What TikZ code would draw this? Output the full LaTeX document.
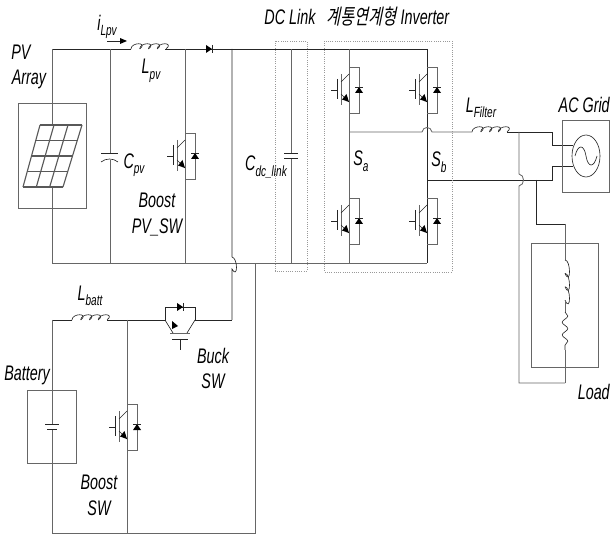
\documentclass[tikz,border=0pt]{standalone}
\usepackage{fontspec}
\setmainfont{Liberation Sans}[FakeStretch=0.68]
\newfontfamily\krfont{Noto Sans CJK KR}[FakeSlant=0.2,FakeStretch=0.72]
\usetikzlibrary{calc,decorations.pathmorphing}
\newcommand{\subs}[1]{\raisebox{-.5ex}{\fontsize{10.5}{10.5}\selectfont #1}}
\tikzset{
 wire/.style={black!85, line width=.45pt},
 gwire/.style={black!60, line width=.6pt},
 dotbox/.style={black!40, densely dotted, line width=.6pt},
 lbl/.style={inner sep=0pt, font=\fontsize{15}{17}\selectfont\itshape},
 diode/.pic={
  \fill[black] (-3,-4) -- (3,0) -- (-3,4) -- cycle;
  \draw[wire] (3,-4) -- (3,4);
 },
 igbt/.pic={
  \draw[wire] (-18,0) -- (-12,0) (-12,-11) -- (-12,9);
  \draw[gwire] (-8,-16) -- (-8,15);
  \draw[wire] (-8,-8) -- (0,-16) (-8,4) -- (0,12);
  \fill[black] (0,12) -- (-7,9.5) -- (-2.5,4) -- cycle;
  \draw[gwire] (0,-23) -- (10,-23) -- (10,23) -- (0,23);
  \pic[rotate=90] at (10,0) {diode};
 },
 coil/.pic={
  \foreach \i in {0,1,2,3}
   \draw[wire] (\i*8.75,0) .. controls +(0,-7) and +(8.75,-7) .. +(8.75,0);
 },
}
\begin{document}
\begin{tikzpicture}[x=0.025cm, y=-0.025cm]
 \useasboundingbox (0,0) rectangle (610,536);

 \coordinate (tl) at (52,49);
 \coordinate (bl) at (52,263);
 \coordinate (cpvT) at (110,49);
 \coordinate (cpvB) at (110,263);
 \coordinate (swT) at (185,49);
 \coordinate (swB) at (185,263);
 \coordinate (dcT) at (232,49);
 \coordinate (cdcT) at (291,49);
 \coordinate (cdcB) at (291,263);
 \coordinate (aT) at (349,49);
 \coordinate (aM) at (349,132);
 \coordinate (aB) at (349,263);
 \coordinate (bT) at (427,49);
 \coordinate (bM) at (427,180);
 \coordinate (bB) at (427,263);
 \coordinate (batL) at (52,320);
 \coordinate (batB) at (52,533);
 \coordinate (busT) at (127,320);
 \coordinate (busB) at (127,533);
 \coordinate (retT) at (255,263);
 \coordinate (retB) at (255,533);
 \coordinate (dcB) at (232,320);
 \coordinate (ltap) at (519,132);
 \coordinate (ltapB) at (519,383);
 \coordinate (ntap) at (536,180);
 \coordinate (loadT) at (565,224);
 \coordinate (loadB) at (565,383);

 \draw[wire] (tl) -- (131,49);
 \draw[wire] (165,49) -- (bT);
 \pic (Lpv) at (131,49) {coil};
 \pic (Dpv) at (209,49) {diode};
 \draw[gwire] (tl) -- (bl);
 \draw[gwire] (bl) -- (bB);
 \draw[gwire] (cpvT) -- (110,153);
 \draw[gwire] (110,160) -- (cpvB);
 \draw[wire] (101,153) -- (118,153);
 \draw[wire] (101,162) .. controls (106,158) and (113,158) .. (118,162);
 \draw[gwire] (swT) -- (swB);
 \pic (Spv) at (185,156) {igbt};
 \draw[wire] (dcT) -- ++(0,208) .. controls +(6,1) and +(6,11) .. ++(0,12) -- (dcB);
 \draw[gwire] (cdcT) -- (291,153);
 \draw[gwire] (291,158) -- (cdcB);
 \draw[wire] (284,153) -- (298,153) (284,158) -- (298,158);

 \draw[gwire] (aT) -- (aB);
 \draw[wire] (bT) -- (bB);
 \pic (S1) at (349,90) {igbt};
 \pic (S2) at (427,90) {igbt};
 \pic (S3) at (349,221) {igbt};
 \pic (S4) at (427,221) {igbt};
 \draw[gwire] (aM) -- (422,132) .. controls (423,126) and (431,126) .. (432,132) -- (472,132);
 \pic (Lf) at (472,132) {coil};
 \draw[wire] (507,132) -- (552,132) -- (552,145) -- (573,145);
 \draw[wire] (bM) -- (552,180) -- (552,166) -- (573,166);
 \draw[gwire] (ltap) -- (519,174) .. controls (525,175) and (525,185) .. (519,186) -- (ltapB) -- (loadB);
 \draw[wire] (ntap) -- (536,224) -- (loadT);
 \draw[gwire] (loadT) -- (565,260);
 \foreach \i in {0,1,2}
  \draw[wire] (565,260+\i*13.4) .. controls +(6,0) and +(6,13.4) .. +(0,13.4);
 \draw[gwire] (565,300) -- (565,312);
 \draw[wire, decorate, decoration={snake, segment length=9pt, amplitude=2pt}] (565,312) -- (565,350);
 \draw[gwire] (565,350) -- (loadB);

 \draw[wire] (batL) -- (72,320);
 \pic (Lb) at (72,320) {coil};
 \draw[wire] (107,320) -- (165,320) -- (165,307) -- (195,307) -- (195,320) -- (dcB);
 \pic (Db) at (180,307) {diode};
 \draw[wire] (165,320) -- (173,333) (195,320) -- (187,333);
 \fill[black] (172,321) -- (172,329) -- (178,326) -- cycle;
 \draw[gwire] (170,333) -- (190,333);
 \draw[wire] (172,339) -- (188,339) (180,339) -- (180,350);
 \draw[gwire] (batL) -- (52,424);
 \draw[gwire] (52,429) -- (batB) -- (retB) -- (retT);
 \draw[wire] (45,424) -- (59,424) (47,429) -- (57,429);
 \draw[gwire] (busT) -- (busB);
 \pic (Sb) at (127,427) {igbt};

 \draw[gwire] (18,103) rectangle (86,208);
 \coordinate (pTL) at (40,125);
 \coordinate (pTR) at (82,125);
 \coordinate (pBL) at (23,187);
 \coordinate (pBR) at (63,187);
 \fill[white] (pTL) -- (pTR) -- (pBR) -- (pBL) -- cycle;
 \foreach \i in {0,1,2,3,4}
  \draw[black!65, line width=1pt] ($(pTL)!\i/4!(pBL)$) -- ($(pTR)!\i/4!(pBR)$);
 \foreach \i in {0,1,2,3}
  \draw[black!65, line width=.8pt] ($(pTL)!\i/3!(pTR)$) -- ($(pBL)!\i/3!(pBR)$);
 \draw[gwire] (27,390) rectangle (76,463);
 \draw[gwire] (531,243) rectangle (598,367);
 \draw[gwire] (562,120) rectangle (609.5,192);
 \draw[wire, fill=white] (586,156) ellipse (14 and 21);
 \draw[wire] (575,156) .. controls (578,144) and (584,144) .. (586,156) .. controls (588,168) and (594,168) .. (597,156);
 \draw[dotbox] (275,41) rectangle (307,271);
 \draw[dotbox] (324,41) rectangle (452,272);

 \coordinate (arS) at (107,41);
 \coordinate (arE) at (127,41);
 \draw[wire] (arS) -- (122,41);
 \fill[black] (arE) -- (120,38) -- (120,44) -- cycle;

 \node[lbl] (iL) at (107,27) {i\subs{Lpv}};
 \node[lbl] (pv) at (21,52) {PV};
 \node[lbl] (array) at (29,79) {Array};
 \node[lbl] (Lpvt) at (151,71) {L\subs{pv}};
 \node[lbl] (Cpvt) at (134,165) {C\subs{pv}};
 \node[lbl] (bo1) at (157,200) {Boost};
 \node[lbl] (bo2) at (157,227) {PV\_SW};
 \node[lbl] (Cdct) at (266,167) {C\subs{dc\_link}};
 \node[lbl] (dclink) at (290,17) {DC Link};
 \node[lbl] (inv) at (388,17) {{\krfont 계통연계형} Inverter};
 \node[lbl] (Sat) at (361,161) {S\subs{a}};
 \node[lbl] (Sbt) at (439,162) {S\subs{b}};
 \node[lbl] (Lft) at (481,108) {L\subs{Filter}};
 \node[lbl, anchor=east] (grid) at (610,105) {AC Grid};
 \node[lbl, anchor=east] (load) at (610,392) {Load};
 \node[lbl] (Lbt) at (90,296) {L\subs{batt}};
 \node[lbl] (batt) at (27,375) {Battery};
 \node[lbl] (bu1) at (213,356) {Buck};
 \node[lbl] (bu2) at (213,381) {SW};
 \node[lbl] (bo3) at (99,482) {Boost};
 \node[lbl] (bo4) at (99,508) {SW};
\end{tikzpicture}
\end{document}
